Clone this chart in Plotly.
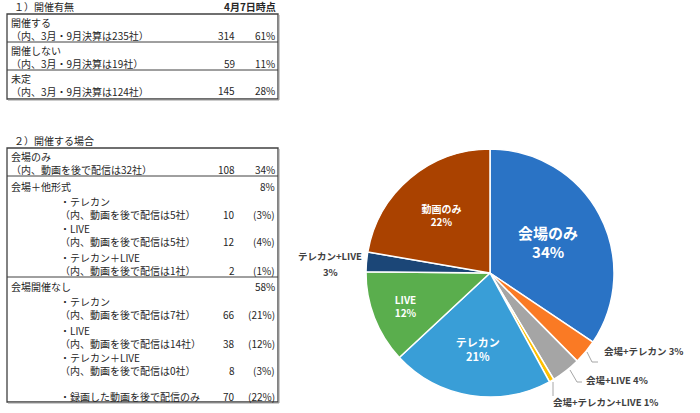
import plotly.graph_objects as go

# 1) 開催有無
t1_title = "１）開催有無"
t1_date = "4月7日時点"
t1_labels = ["開催する", "開催しない", "未定"]
t1_notes = ["（内、3月・9月決算は235社）", "（内、3月・9月決算は19社）", "（内、3月・9月決算は124社）"]
t1_counts = [314, 59, 145]
t1_pcts = ["61%", "11%", "28%"]

# 2) 開催する場合
t2_title = "２）開催する場合"
t2_groups = ["会場のみ", "会場＋他形式", "会場開催なし"]
t2_group_pcts = ["34%", "8%", "58%"]
t2_only_note = "（内、動画を後で配信は32社）"
t2_only_count = 108
t2_sub_labels = ["・テレカン", "・LIVE", "・テレカン＋LIVE",
                 "・テレカン", "・LIVE", "・テレカン＋LIVE", "・録画した動画を後で配信のみ"]
t2_sub_notes = ["（内、動画を後で配信は5社）", "（内、動画を後で配信は5社）", "（内、動画を後で配信は1社）",
                "（内、動画を後で配信は7社）", "（内、動画を後で配信は14社）", "（内、動画を後で配信は0社）", ""]
t2_sub_counts = [10, 12, 2, 66, 38, 8, 70]
t2_sub_pcts = ["(3%)", "(4%)", "(1%)", "(21%)", "(12%)", "(3%)", "(22%)"]

# 円グラフ
pie_labels = ["会場のみ", "会場+テレカン", "会場+LIVE", "会場+テレカン+LIVE",
              "テレカン", "LIVE", "テレカン+LIVE", "動画のみ"]
pie_values = [108, 10, 12, 2, 66, 38, 8, 70]
pie_colors = ["#2A73C5", "#FA7A24", "#A5A5A5", "#FFC000",
              "#399ED7", "#5AAE4D", "#1B4677", "#AA4200"]

W, H = 700, 413
FONT = "Noto Sans CJK JP"
TXT = "#262626"
FS = 10


def X(px):
    return px / W


def Y(py):
    return 1 - py / H


annotations = []
shapes = []


def txt(x, y, s, anchor="left", size=FS, bold=False, color=TXT, yanchor="middle"):
    annotations.append(dict(
        x=X(x), y=Y(y), xref="paper", yref="paper",
        text=f"<b>{s}</b>" if bold else s, showarrow=False,
        xanchor=anchor, yanchor=yanchor, align="left",
        font=dict(family=FONT, size=size, color=color),
    ))


def hline(y, x0=7, x1=278, w=1):
    shapes.append(dict(type="line", xref="paper", yref="paper",
                       x0=X(x0), x1=X(x1), y0=Y(y), y1=Y(y),
                       line=dict(color="#404040", width=w)))


def box(y0, y1, x0=7, x1=278):
    shapes.append(dict(type="rect", xref="paper", yref="paper",
                       x0=X(x0), x1=X(x1), y0=Y(y0), y1=Y(y1),
                       line=dict(color="#404040", width=1.3)))
    # 影っぽい右・下の線
    shapes.append(dict(type="line", xref="paper", yref="paper",
                       x0=X(x1 + 1), x1=X(x1 + 1), y0=Y(y0 + 1), y1=Y(y1 + 1),
                       line=dict(color="#9a9a9a", width=1)))
    shapes.append(dict(type="line", xref="paper", yref="paper",
                       x0=X(x0 + 1), x1=X(x1 + 1), y0=Y(y1 + 1), y1=Y(y1 + 1),
                       line=dict(color="#9a9a9a", width=1)))


COL_N = 237
COL_P = 277

# 表1
txt(12, 7, t1_title)
txt(278, 7, t1_date, anchor="right", bold=True)
box(14, 99)
row_y = [14, 42, 70]
for i in range(3):
    y = row_y[i]
    if i > 0:
        hline(y)
    txt(9, y + 15, f"{t1_labels[i]}<br>{t1_notes[i]}")
    txt(COL_N, y + 21, str(t1_counts[i]), anchor="right")
    txt(COL_P, y + 21, t1_pcts[i], anchor="right")

# 表2
txt(12, 140, t2_title)
box(148, 402)
hline(176)
hline(277)
txt(9, 163, f"{t2_groups[0]}<br>{t2_only_note}")
txt(COL_N, 169, str(t2_only_count), anchor="right")
txt(COL_P, 169, t2_group_pcts[0], anchor="right")

txt(9, 186, t2_groups[1])
txt(COL_P, 186, t2_group_pcts[1], anchor="right")
txt(9, 286, t2_groups[2])
txt(COL_P, 286, t2_group_pcts[2], anchor="right")

sub_y = [202, 229, 258, 302, 331, 358, 396]
for i, y in enumerate(sub_y):
    if t2_sub_notes[i]:
        txt(58, y + 6, f"{t2_sub_labels[i]}<br>{t2_sub_notes[i]}")
        ny = y + 12
    else:
        txt(58, y, t2_sub_labels[i])
        ny = y
    txt(COL_N, ny, str(t2_sub_counts[i]), anchor="right")
    txt(COL_P, ny, t2_sub_pcts[i], anchor="right")

# 円グラフ
total = sum(pie_values)
inside = [True, False, False, False, True, True, False, True]
templates = ["<b>%{label}<br>%{percent:.0%}</b>" if f else "" for f in inside]
sizes = [15, 10, 10, 10, 11, 10, 10, 10]

cx, cy, r = 490, 273, 124
fig = go.Figure(go.Pie(
    labels=pie_labels,
    values=pie_values,
    sort=False,
    direction="clockwise",
    rotation=0,
    marker=dict(colors=pie_colors, line=dict(color="white", width=1.5)),
    texttemplate=templates,
    textposition="inside",
    insidetextorientation="horizontal",
    textfont=dict(family=FONT, size=sizes, color="white"),
    domain=dict(x=[X(cx - r), X(cx + r)], y=[Y(cy + r), Y(cy - r)]),
    hoverinfo="label+value+percent",
    showlegend=False,
))


def pct(i):
    return f"{round(pie_values[i] / total * 100)}%"


LBL = "#404040"
# 外側ラベル
txt(330, 256, pie_labels[6], anchor="center", size=9.5, bold=True, color=LBL)
txt(330, 272, pct(6), anchor="center", size=9.5, bold=True, color=LBL)
txt(602, 351, f"{pie_labels[1]} {pct(1)}", size=9.5, bold=True, color=LBL)
txt(584, 380, f"{pie_labels[2]} {pct(2)}", size=9.5, bold=True, color=LBL)
txt(551, 402, f"{pie_labels[3]} {pct(3)}", size=9.5, bold=True, color=LBL)


def leader(pts):
    path = "M " + " L ".join(f"{X(a)},{Y(b)}" for a, b in pts)
    shapes.append(dict(type="path", xref="paper", yref="paper", path=path,
                       line=dict(color="#a6a6a6", width=1)))


leader([(587, 352), (592, 362), (598, 362)])
leader([(570, 370), (577, 382), (582, 382)])
leader([(553, 382), (553, 396)])

fig.update_layout(
    width=W, height=H,
    margin=dict(l=0, r=0, t=0, b=0),
    paper_bgcolor="white",
    plot_bgcolor="white",
    annotations=annotations,
    shapes=shapes,
    font=dict(family=FONT, color=TXT),
)

# ページ本体の余白を消す
fig.write_html(
    "out.html",
    config={"displayModeBar": False},
    post_script="document.body.style.margin='0';document.body.style.padding='0';",
)
